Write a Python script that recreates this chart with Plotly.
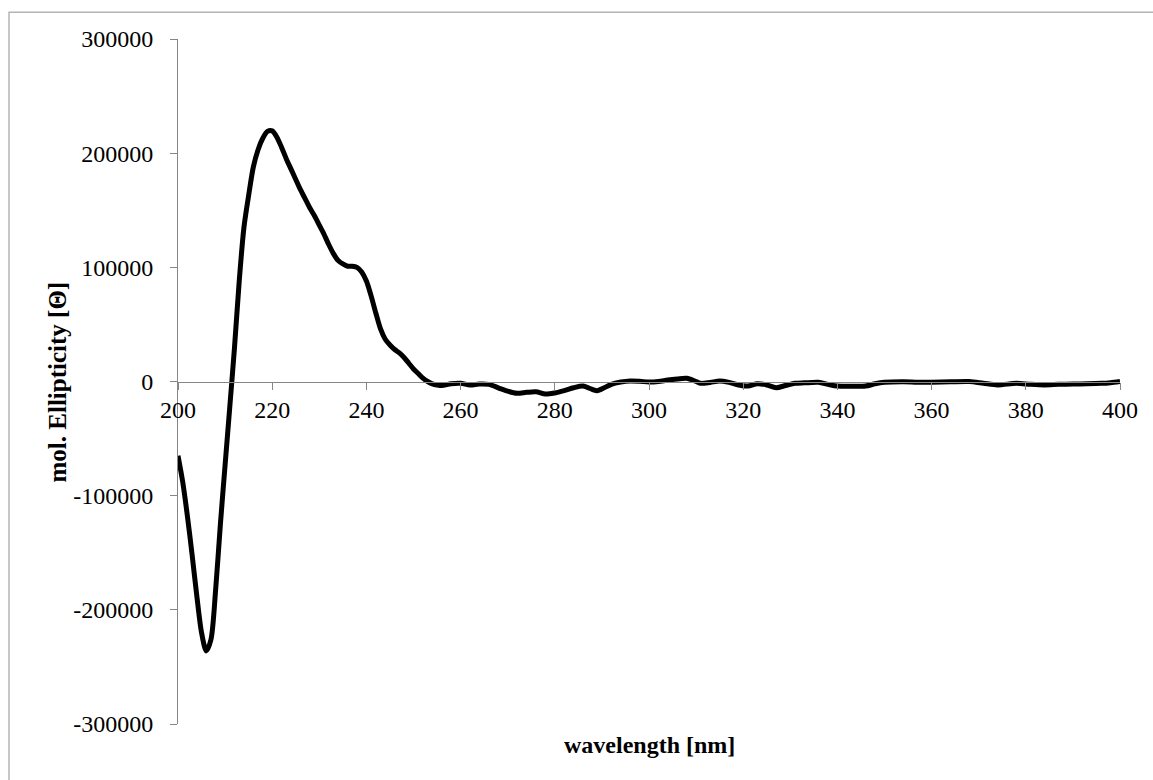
import plotly.graph_objects as go

wavelength = [200, 201, 202, 203, 204, 205, 206, 207, 208, 209, 210, 211, 212, 213, 214, 215,
              216, 217, 218, 219, 220, 221, 222, 223, 224, 225, 226, 227, 228, 229, 230, 231,
              232, 233, 234, 235, 236, 237, 238, 239, 240, 241, 242, 243, 244, 245, 246, 247,
              248, 249, 250, 251, 252, 253, 254, 255, 256, 258, 260, 262, 264, 266, 268, 270,
              272, 274, 276, 278, 280, 282, 284, 286, 288, 289, 290, 292, 294, 296, 298, 300,
              302, 304, 306, 308, 310, 311, 313, 315, 317, 319, 321, 323, 325, 327, 329, 331,
              333, 336, 338, 340, 343, 346, 348, 350, 354, 357, 360, 364, 368, 371, 374, 378,
              381, 384, 387, 390, 393, 396, 398, 400]
ellipticity = [-65000, -88000, -118000, -152000, -188000, -220000, -236000, -226000, -182000,
               -125000, -73000, -22000, 30000, 88000, 135000, 163000, 188000, 203000, 213000,
               219000, 219500, 214000, 205000, 195000, 186000, 177000, 168000, 160000, 152000,
               145000, 137000, 129000, 120000, 112000, 106000, 103000, 101000, 101000, 100000,
               96000, 88000, 75000, 60000, 46000, 37000, 32000, 28000, 25000, 21000, 16000,
               11000, 7000, 3000, 0, -2000, -3000, -3500, -2000, -1600, -3000, -2200, -2500,
               -5500, -8500, -10300, -9500, -9000, -11000, -10000, -8000, -5500, -4000, -7000,
               -8000, -6500, -2500, -500, 500, 200, -500, 0, 1300, 2200, 2800, 0, -1600, -800,
               400, -800, -3000, -4000, -2000, -3000, -5400, -3500, -1600, -1200, -700, -2500,
               -4000, -4200, -4000, -2000, -700, -200, -700, -700, -300, 0, -1500, -3000, -1600,
               -2500, -3000, -2500, -2200, -2000, -1600, -1000, 0]

x_ticks = [200, 220, 240, 260, 280, 300, 320, 340, 360, 380, 400]
y_ticks = [300000, 200000, 100000, 0, -100000, -200000, -300000]
y_tick_labels = ["300000", "200000", "100000", "0", "-100000", "-200000", "-300000"]

FONT = "Liberation Serif"
AXIS_GRAY = "#868686"

fig = go.Figure()
fig.add_trace(go.Scatter(
    x=wavelength, y=ellipticity, mode="lines",
    line=dict(color="black", width=5, shape="spline", smoothing=0.8),
    showlegend=False, hoverinfo="skip",
))

fig.update_layout(
    width=1153, height=780,
    margin=dict(l=178, r=33, t=39, b=56),
    paper_bgcolor="white", plot_bgcolor="white",
    font=dict(family=FONT, size=24, color="black"),
    xaxis=dict(
        range=[200, 400], tickvals=x_ticks, ticktext=[str(v) for v in x_ticks],
        showgrid=False, zeroline=False, showline=True, linecolor=AXIS_GRAY, linewidth=1,
        ticks="outside", ticklen=7, tickcolor=AXIS_GRAY, tickwidth=1,
        anchor="free", position=0.5,
        tickfont=dict(family=FONT, size=24, color="black"),
    ),
    yaxis=dict(
        range=[-300000, 300000], tickvals=y_ticks, ticktext=y_tick_labels,
        showgrid=False, zeroline=False, showline=True, linecolor=AXIS_GRAY, linewidth=1,
        ticks="outside", ticklen=7, tickcolor=AXIS_GRAY, tickwidth=1,
        ticklabelstandoff=12,
        tickfont=dict(family=FONT, size=24, color="black"),
    ),
    annotations=[
        dict(text="<b>wavelength [nm]</b>", xref="paper", yref="paper",
             x=0.5, y=-0.030, xanchor="center", yanchor="middle", showarrow=False,
             font=dict(family=FONT, size=24, color="black")),
        dict(text="<b>mol. Ellipticity [Θ]</b>", xref="paper", yref="paper",
             x=-0.1274, y=0.5, xanchor="center", yanchor="middle", showarrow=False,
             textangle=-90, font=dict(family=FONT, size=25, color="black")),
    ],
    shapes=[
        dict(type="rect", xref="paper", yref="paper",
             x0=-0.1794, x1=1.05, y0=-0.1, y1=1.0389,
             line=dict(color="#b4b4b4", width=1.5), fillcolor="rgba(0,0,0,0)", layer="below"),
    ],
)

fig.write_html("out.html")
